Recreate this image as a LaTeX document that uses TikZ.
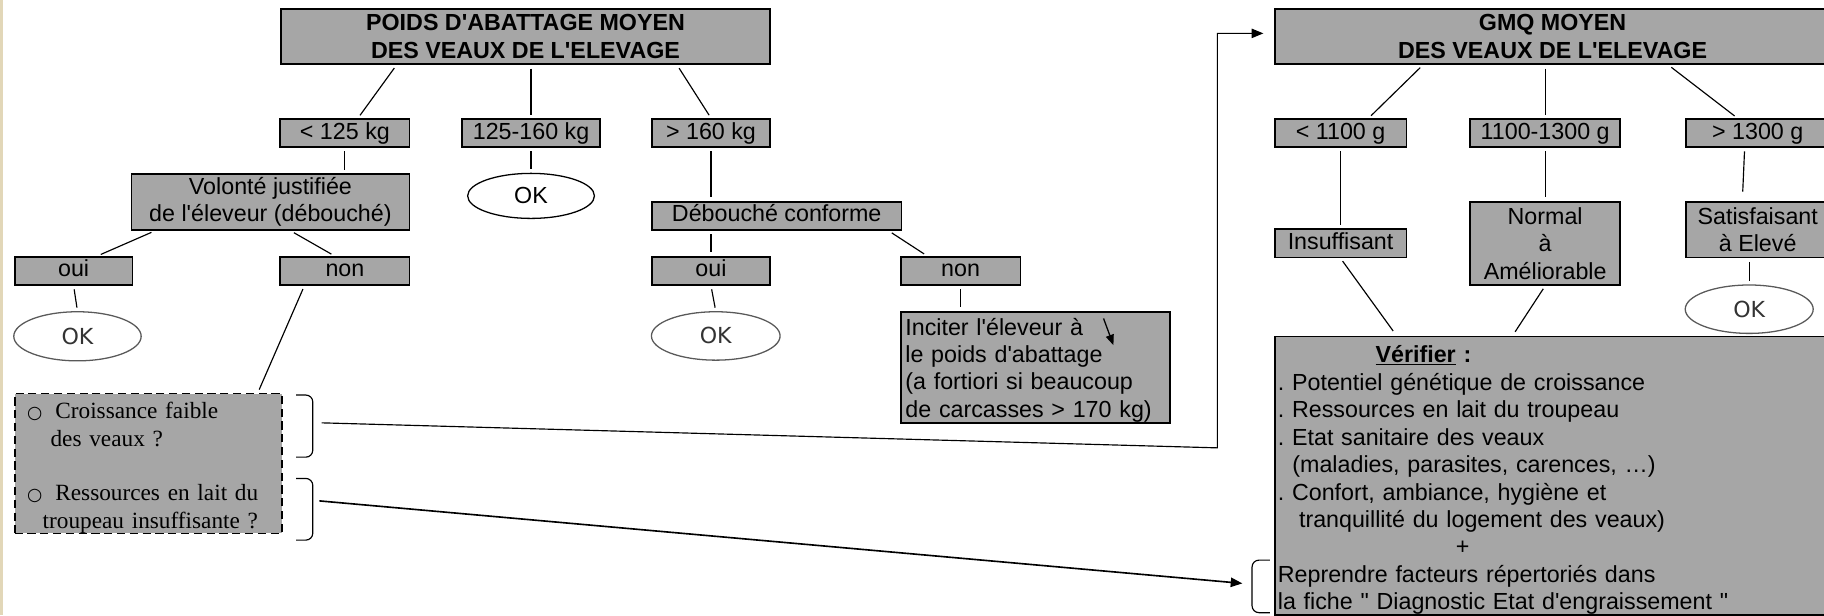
\documentclass[tikz,border=0pt]{standalone}
\usepackage{fontspec}
\setmainfont{Liberation Sans}[Ligatures=TeXOff]
\newfontfamily\serifface{Liberation Serif}[Ligatures=TeXOff]
\newfontfamily\okface{DejaVu Sans}
\usetikzlibrary{shapes.geometric,arrows.meta,calc}
\definecolor{boxgray}{RGB}{166,166,166}
\definecolor{edgebeige}{RGB}{226,215,184}
\newcommand{\puce}{\makebox[24.2pt][l]{\okface\fontsize{15}{15}\selectfont ○}}
\frenchspacing

\begin{document}
\begin{tikzpicture}[
            x=1pt, y=-1pt,
            every node/.style={inner sep=0pt, font=\fontsize{20}{23.6}\selectfont},
            box/.style={draw, line width=1.5pt, fill=boxgray, align=center},
            tag/.style={box, text height=14.5pt, text depth=4.2pt},
            oval/.style={ellipse, draw=black!65, line width=1.1pt, text=black!80,
                font=\okface\fontsize{19}{22}\selectfont},
            line/.style={line width=1pt, shorten <=3pt, shorten >=3pt},
            hook/.style={line width=1pt, rounded corners=6pt},
            link/.style={line width=1.2pt, -{Triangle[length=10pt,width=8pt]}},
            ]

        \useasboundingbox (0,0) rectangle (1568,529);
        \clip (0,0) rectangle (1568,529);
        \fill[edgebeige] (0,0) rectangle (2.5,529);

        % poids d'abattage
        \node[box, font=\bfseries\fontsize{20}{23.6}\selectfont, minimum width=420.5, minimum height=47.6] (poids) at (451.75, 31.5) {POIDS D'ABATTAGE MOYEN\\DES VEAUX DE L'ELEVAGE};
        \node[tag, minimum width=111, minimum height=24.1] (bas) at (296.5, 114.35) {< 125 kg};
        \node[tag, minimum width=119, minimum height=24.1] (moyen) at (456.5, 114.35) {125-160 kg};
        \node[tag, minimum width=101.6, minimum height=24.1] (haut) at (611.2, 114.35) {> 160 kg};
        \node[box, minimum width=239, minimum height=48.2] (volonte) at (232.5, 173.7) {Volonté justifiée\\de l'éleveur (débouché)};
        \node[ellipse, draw, line width=1.1pt, minimum width=109, minimum height=38.7] (okmoyen) at (456.5, 168.4) {OK};
        \node[tag, minimum width=214.6, minimum height=24.4] (debouche) at (667.7, 185.6) {Débouché conforme};
        \node[tag, minimum width=101.4, minimum height=24.3] (ouiA) at (63.3, 232.85) {oui};
        \node[tag, minimum width=111, minimum height=24.3] (nonA) at (296.5, 232.85) {non};
        \node[tag, minimum width=101.6, minimum height=24.3] (ouiB) at (611.2, 232.85) {oui};
        \node[tag, minimum width=103, minimum height=24.3] (nonB) at (825.8, 232.85) {non};
        \node[oval, minimum width=109.5, minimum height=42.2] (okA) at (66.6, 289.1) {OK};
        \node[oval, minimum width=110.6, minimum height=41.6] (okB) at (615.3, 288.8) {OK};
        \node[box, align=left, text width=223.7, inner xsep=4, minimum height=95.5] (inciter) at (890.15, 315.75) {\rule{0pt}{19.5pt}Inciter l'éleveur à\\le poids d'abattage\\(a fortiori si beaucoup\\de carcasses > 170 kg)};
        \node[box, dash pattern=on 7pt off 4pt, font=\serifface\fontsize{20}{23.6}\selectfont, align=left, text width=229.8, minimum height=118.7] (doute) at (127.5, 398.45) {\rule{0pt}{21.5pt}\hspace*{10.8pt}\puce Croissance faible\\\hspace*{30.9pt}des veaux ?\\[23.6pt]\hspace*{10.8pt}\puce Ressources en lait du\\\hspace*{24.1pt}troupeau insuffisante ?};

        \draw[line] ($(poids.south west)!.237!(poids.south east)$) -- ($(bas.north west)!.6!(bas.north east)$);
        \draw[line] (moyen.north |- poids.south) -- (moyen.north);
        \draw[line] ($(poids.south west)!.809!(poids.south east)$) -- (haut.north);
        \draw[line] (bas.south) -- (bas.south |- volonte.north);
        \draw[line] (moyen.south) -- (okmoyen.north);
        \draw[line] (haut.south) -- (haut.south |- debouche.north);
        \draw[line] ($(volonte.south west)!.086!(volonte.south east)$) -- ($(ouiA.north west)!.7!(ouiA.north east)$);
        \draw[line] ($(volonte.south west)!.573!(volonte.south east)$) -- ($(nonA.north west)!.42!(nonA.north east)$);
        \draw[line] (ouiB.north |- debouche.south) -- (ouiB.north);
        \draw[line] ($(debouche.south west)!.946!(debouche.south east)$) -- ($(nonB.north west)!.224!(nonB.north east)$);
        \draw[line] (ouiA.south) -- (okA.north);
        \draw[line] (ouiB.south) -- (okB.north);
        \draw[line] (nonB.south) -- (nonB.south |- inciter.north);
        \draw[line] ($(nonA.south west)!.19!(nonA.south east)$) -- ($(doute.north west)!.907!(doute.north east)$);
        \draw[line width=1.1pt, -{Triangle[length=9pt,width=7pt]}] ([shift={(58.5,-42)}]inciter.center) -- ([shift={(67,-19)}]inciter.center);

        % GMQ
        \node[box, font=\bfseries\fontsize{20}{23.6}\selectfont, minimum width=477.8, minimum height=47.6] (gmq) at (1334.7, 31.5) {GMQ MOYEN\\DES VEAUX DE L'ELEVAGE};
        \node[tag, minimum width=113.2, minimum height=24.1] (gbas) at (1152.4, 114.35) {< 1100 g};
        \node[tag, minimum width=129, minimum height=24.1] (gmoyen) at (1328.3, 114.35) {1100-1300 g};
        \node[tag, minimum width=123.2, minimum height=24.1] (ghaut) at (1511, 114.35) {> 1300 g};
        \node[tag, minimum width=113.2, minimum height=24.4] (insuff) at (1152.4, 209.1) {Insuffisant};
        \node[box, minimum width=129, minimum height=71.6] (normal) at (1328.3, 209.2) {Normal\\à\\Améliorable};
        \node[box, minimum width=123.2, minimum height=47.9] (satisf) at (1511, 197.35) {Satisfaisant\\à Elevé};
        \node[oval, minimum width=110, minimum height=41.6] (okC) at (1503.7, 265.8) {OK};
        \node[box, align=left, text width=472.6, inner xsep=2.7, minimum height=234.3] (verifier) at (1334.8, 408.85) {{\bfseries\rule{0pt}{22.5pt}\hspace*{84pt}\underline{Vérifier} :}\\. Potentiel génétique de croissance\\. Ressources en lait du troupeau\\. Etat sanitaire des veaux\\\hspace*{12.5pt}(maladies, parasites, carences, …)\\. Confort, ambiance, hygiène et\\\hspace*{18.2pt}tranquillité du logement des veaux)\\\hspace*{153pt}+\\Reprendre facteurs répertoriés dans\\la fiche " Diagnostic Etat d'engraissement "};

        \draw[line] ($(gmq.south west)!.267!(gmq.south east)$) -- ($(gbas.north west)!.71!(gbas.north east)$);
        \draw[line] (gmoyen.north |- gmq.south) -- (gmoyen.north);
        \draw[line] ($(gmq.south west)!.708!(gmq.south east)$) -- ($(ghaut.north west)!.36!(ghaut.north east)$);
        \draw[line] (gbas.south) -- (insuff.north);
        \draw[line] (gmoyen.south) -- (normal.north);
        \draw[line, shorten >=8pt] ($(ghaut.south west)!.41!(ghaut.south east)$) -- ($(satisf.north west)!.394!(satisf.north east)$);
        \draw[line] (okC.north |- satisf.south) -- (okC.north);
        \draw[line, shorten >=5pt] (insuff.south) -- ($(verifier.north west)!.22!(verifier.north east)$);
        \draw[line, shorten >=4pt] (normal.south) -- ($(verifier.north west)!.428!(verifier.north east)$);

        % accolades et renvois
        \draw[hook] (254.5, 339.6) -- (268.9, 339.6) -- (268.9, 393) -- (254.5, 393);
        \draw[hook] (254.5, 411.3) -- (268.9, 411.3) -- (268.9, 464.3) -- (254.5, 464.3);
        \draw[hook] (1091.7, 481.5) -- (1076.3, 481.5) -- (1076.3, 526.7) -- (1091.7, 526.7);
        \coordinate (fromA) at (276.5, 363.5);
        \coordinate (fromB) at (274.6, 430.6);
        \coordinate (corner) at (1046.5, 385);
        \coordinate (intoB) at (1068, 501.5);
        \draw[link, line width=1pt, shorten >=9pt] (fromA) -- (corner) |- ([yshift=2.8pt]gmq.west);
        \draw[link, line width=1.4pt] (fromB) -- (intoB);
    \end{tikzpicture}
\end{document}
